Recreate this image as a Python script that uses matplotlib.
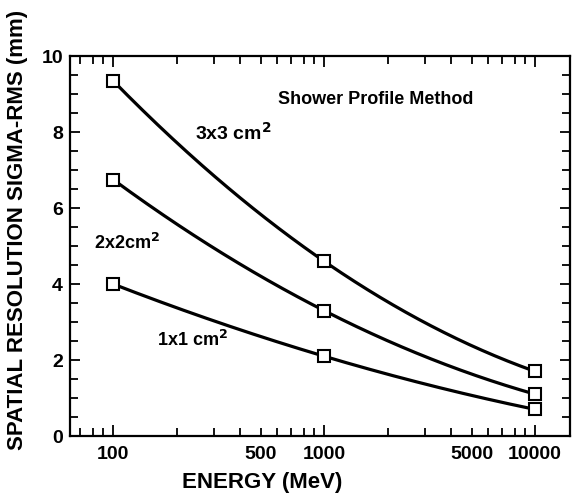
import matplotlib.pyplot as plt
import numpy as np
from matplotlib.ticker import FixedLocator, FixedFormatter

# energies (MeV) and resolution (mm)
energy = [100, 1000, 10000]
res_3x3 = [9.35, 4.6, 1.7]
res_2x2 = [6.75, 3.3, 1.1]
res_1x1 = [4.0, 2.1, 0.7]

series = [res_3x3, res_2x2, res_1x1]

plt.rcParams['font.family'] = ['Liberation Sans', 'DejaVu Sans']
plt.rcParams['font.weight'] = 'bold'
plt.rcParams['axes.labelweight'] = 'bold'

fig = plt.figure(figsize=(5.77, 4.94), dpi=100)
ax = fig.add_axes([0.1213, 0.1174, 0.8667, 0.7692])

# smooth curve through the three points (parabola in log E)
lx = np.log10(energy)
xs = np.linspace(lx[0], lx[-1], 200)
for ys in series:
    c = np.polyfit(lx, ys, 2)
    ax.plot(10**xs, np.polyval(c, xs), color='black', lw=2.3, zorder=2)
    ax.plot(energy, ys, ls='none', marker='s', ms=8.5, mfc='white',
            mec='black', mew=1.5, zorder=3)

ax.set_xscale('log')
ax.set_xlim(62.5, 14650)
ax.set_ylim(0, 10)

ax.xaxis.set_major_locator(FixedLocator([100, 1000, 10000]))
ax.xaxis.set_major_formatter(FixedFormatter(['100', '1000', '10000']))
minors = [m * d for d in [10, 100, 1000] for m in range(2, 10)]
minors = [v for v in minors if 62 < v < 14700]
ax.xaxis.set_minor_locator(FixedLocator(minors))
ax.xaxis.set_minor_formatter(FixedFormatter(['500' if v == 500 else '5000' if v == 5000 else '' for v in minors]))

ax.set_yticks([0, 2, 4, 6, 8, 10])
ax.set_yticks(np.arange(0, 10.01, 0.5), minor=True)

ax.tick_params(which='both', direction='in', top=True, right=True,
               labelsize=14, width=1.3, pad=7)
ax.tick_params(which='major', length=8)
ax.tick_params(which='minor', length=6)
ax.tick_params(axis='y', which='major', length=7, pad=5)

for s in ax.spines.values():
    s.set_linewidth(1.6)

ax.set_xlabel('ENERGY (MeV)', fontsize=16)
ax.set_ylabel('SPATIAL RESOLUTION SIGMA-RMS (mm)', fontsize=16)
ax.xaxis.set_label_coords(0.384, -0.095)
ax.yaxis.set_label_coords(-0.084, 0.542)

ax.text(1760, 8.85, 'Shower Profile Method', fontsize=13, ha='center', va='center')
ax.text(245, 7.97, r'3x3 cm$^{\mathbf{2}}$', fontsize=14, ha='left', va='center')
ax.text(116, 5.08, r'2x2cm$^{\mathbf{2}}$', fontsize=13, ha='center', va='center')
ax.text(162, 2.53, r'1x1 cm$^{\mathbf{2}}$', fontsize=13, ha='left', va='center')

fig.savefig('out.png', dpi=100)
